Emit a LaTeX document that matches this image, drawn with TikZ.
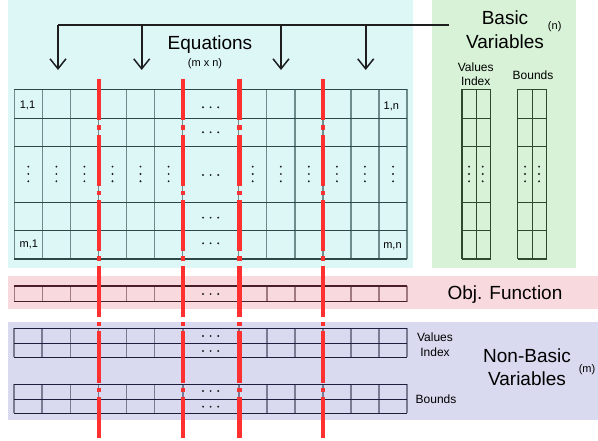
\documentclass[tikz,border=0pt]{standalone}
\usepackage{fontspec}
\setmainfont{Liberation Sans}
\usetikzlibrary{arrows.meta}

\definecolor{eqbg}{HTML}{DDF7F7}
\definecolor{basbg}{HTML}{D7F2D7}
\definecolor{objbg}{HTML}{F8D9DD}
\definecolor{nbbg}{HTML}{D9D9EF}
\definecolor{eqh}{HTML}{2E4848}
\definecolor{eqv}{HTML}{6F8C8C}
\definecolor{basl}{HTML}{2E4A2E}
\definecolor{objh}{HTML}{4A1E2A}
\definecolor{objv}{HTML}{A07A80}
\definecolor{nbh}{HTML}{1E1E3C}
\definecolor{nbv}{HTML}{7A7A92}
\definecolor{cutred}{HTML}{FF3030}
\definecolor{ink}{HTML}{1E1E1E}

\tikzset{
  big/.style={inner sep=0pt, anchor=base, font=\fontsize{19}{22}\selectfont},
  small/.style={inner sep=0pt, anchor=base, font=\fontsize{12}{14}\selectfont},
  tiny/.style={inner sep=0pt, font=\fontsize{11}{13}\selectfont},
  cell/.style={inner sep=0pt, anchor=base, font=\fontsize{11}{13}\selectfont},
  bus/.style={draw=ink, line width=1.6pt},
  drop/.style={draw=ink, line width=1.6pt,
    -{Straight Barb[length=10pt, width=16pt, line width=1.5pt]}},
  cut/.style={draw=cutred, line width=4.2pt,
    dash pattern=on 51pt off 5pt on 4.5pt off 5pt, dash phase=9.5pt},
  dot/.style={fill=ink},
}

% three dots in a row / in a column
\newcommand{\rowdots}[2]{%
  \foreach \d in {-7.6,0,7.6} {\fill[dot] (#1+\d,#2) circle (1.05);}}
\newcommand{\coldots}[2]{%
  \foreach \d in {-7.3,0,7.3} {\fill[dot] (#1,#2+\d) circle (1.05);}}

\begin{document}
\begin{tikzpicture}[x=1pt, y=-1pt]
\useasboundingbox (0,0) rectangle (598,441);

% coloured regions
\fill[eqbg]  (8,0) rectangle (413,268);
\fill[basbg] (432,0) rectangle (576,268);
\fill[objbg] (8,276) rectangle (598,309);
\fill[nbbg]  (8,322) rectangle (598,420);

\def\cols{14.3,42.35,70.4,98.45,126.5,154.55,182.6,238.7,266.75,294.8,322.85,350.9,378.95,407}
\def\ctrs{28.3,56.4,84.4,112.5,140.5,168.6,252.7,280.8,308.8,336.9,364.9,393}

% equations matrix
\foreach \x in \cols {\draw[eqv, line width=1.4pt] (\x,89.3) -- (\x,259);}
\foreach \y in {89.3,118.3,146.8,202.7,230.7,259}
  {\draw[eqh, line width=1.2pt] (14.3,\y) -- (407,\y);}

% basic variables columns
\foreach \xa/\xb/\xc in {462/476.7/490.7, 517.7/532.7/546.7} {
  \foreach \x in {\xa,\xb,\xc} {\draw[basl, line width=1.2pt] (\x,89.3) -- (\x,259);}
  \foreach \y in {89.3,118.3,146.8,202.7,230.7,259}
    {\draw[basl, line width=1.2pt] (\xa,\y) -- (\xc,\y);}
}

% objective function row
\foreach \x in \cols {\draw[objv, line width=1.6pt] (\x,286) -- (\x,301.7);}
\foreach \y in {286,301.7} {\draw[objh, line width=1.2pt] (14.3,\y) -- (407,\y);}

% non-basic variables rows
\foreach \ya/\yb/\yc in {328.3/343.3/357.3, 384.3/399.3/413.3} {
  \foreach \x in \cols {\draw[nbv, line width=1.8pt] (\x,\ya) -- (\x,\yc);}
  \foreach \y in {\ya,\yb,\yc} {\draw[nbh, line width=1.2pt] (14.3,\y) -- (407,\y);}
}

% ellipses
\foreach \c in \ctrs {\coldots{\c}{174}}
\foreach \c in {469,482.7,525,539} {\coldots{\c}{174}}
\foreach \y in {107.3,132.3,175,217.7,243.3,294,336,351,391,406.7} {\rowdots{210.6}{\y}}

% cell labels
\node[cell] (c11) at (27.5,109) {1,1};
\node[cell] (c1n) at (391.3,109.5) {1,n};
\node[cell] (cm1) at (28.8,248) {m,1};
\node[cell] (cmn) at (392.5,249) {m,n};

% cut lines through the columns
\foreach \x in {99.2,183,239.5,323.3}
  {\draw[cut] (\x,79) -- (\x,438.3);}

% titles
\node[big] (eq) at (210,50) {Equations};
\node[tiny] (eqdim) at (205,63.5) {(m x n)};
\node[big] (basic) at (505,25) {Basic};
\node[big] (basicvar) at (505,48.3) {Variables};
\node[tiny] (ndim) at (554.7,26.5) {(n)};
\node[small] (bval) at (475.7,71.5) {Values};
\node[small] (bidx) at (475.7,86) {Index};
\node[small] (bbnd) at (533,80) {Bounds};
\node[big] (obj) at (505,299.3) {Obj. Function};
\node[big] (nonbasic) at (527,362.7) {Non-Basic};
\node[big] (nbvar) at (527,385) {Variables};
\node[tiny] (mdim) at (587,370) {(m)};
\node[small] (nval) at (435,341.5) {Values};
\node[small] (nidx) at (435,356) {Index};
\node[small] (nbnd) at (436,403) {Bounds};

% distribution bus with drops into the matrix
\coordinate (busend) at (449,25);
\coordinate (b1) at (58,25);
\coordinate (b2) at (141.7,25);
\coordinate (b3) at (281,25);
\coordinate (b4) at (365.7,25);
\coordinate (t1) at (58,70);
\coordinate (t2) at (141.7,70);
\coordinate (t3) at (281,70);
\coordinate (t4) at (365.7,70);
\draw[bus] (b1) -- (busend);
\foreach \i in {1,2,3,4} {\draw[drop] (b\i) -- (t\i);}
\end{tikzpicture}
\end{document}
